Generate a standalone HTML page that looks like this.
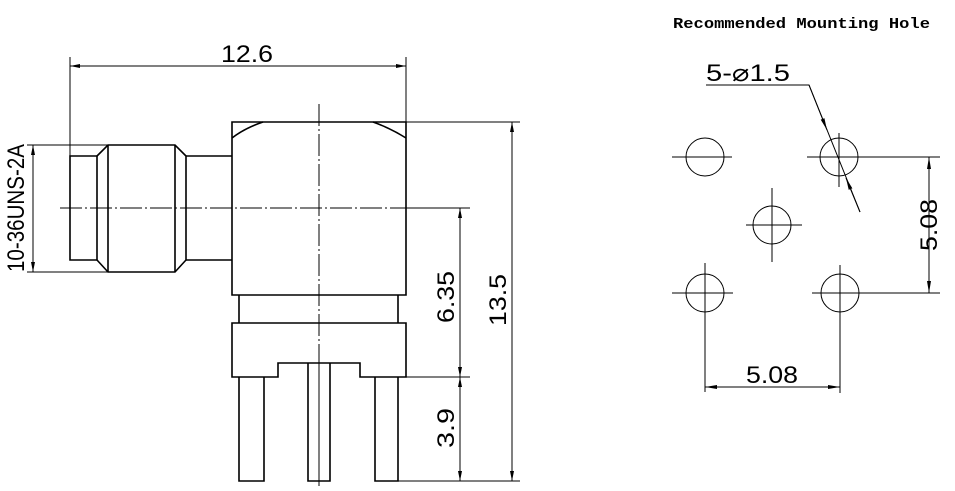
<!DOCTYPE html>
<html><head><meta charset="utf-8"><style>
html,body{margin:0;padding:0;background:#fff;}
svg{display:block;}
text{fill:#000;}
</style></head><body>
<svg width="955" height="491" viewBox="0 0 955 491" xmlns="http://www.w3.org/2000/svg">
<defs>
<marker id="a" viewBox="0 0 10 4" refX="10" refY="2" markerWidth="10" markerHeight="4" orient="auto-start-reverse" markerUnits="userSpaceOnUse"><path d="M0,0 L10,2 L0,4z" fill="#000"/></marker>
<marker id="b" viewBox="0 0 12 4" refX="12" refY="2" markerWidth="12" markerHeight="4" orient="auto-start-reverse" markerUnits="userSpaceOnUse"><path d="M0,0 L12,2 L0,4z" fill="#000"/></marker>
</defs>
<g fill="none" stroke="#000" stroke-width="1.6">
<path d="M232,122 H406 V295 H232 Z"/>
<path d="M232,138 Q245,128 263,122 M373,122 Q390,128 406,138"/>
<path d="M239,295 V323 M398,295 V323"/>
<path d="M232,323 H406 V377 H360 V363 H278 V377 H232 Z"/>
<path d="M239,377 V481 H264 V377"/>
<path d="M308,363 V481 H330 V363"/>
<path d="M375,377 V481 H398 V377"/>
<path d="M70,156 H97 V260 H70 Z"/>
<path d="M97,156 L108,145 H175 L186,156 V260 L175,272 H108 L97,260"/>
<path d="M108,145 V272 M175,145 V272"/>
<path d="M186,156 H232 M186,260 H232"/>
</g>
<g fill="none" stroke="#000" stroke-width="1">
<path d="M319,363 V481"/>
<path d="M319,104 V487" stroke-dasharray="22,3,2,3"/>
<path d="M60,208 H470" stroke-dasharray="22,3,2,3"/>
<path d="M70,57 V156 M406,57 V122"/>
<path d="M70,66 H406" marker-start="url(#a)" marker-end="url(#a)"/>
<path d="M27,145 H108 M27,272 H108"/>
<path d="M33,145 V272" marker-start="url(#a)" marker-end="url(#a)"/>
<path d="M406,122 H520 M398,481 H520 M406,377 H470 M406,208 H470"/>
<path d="M512,122 V481" marker-start="url(#a)" marker-end="url(#a)"/>
<path d="M460,208 V377" marker-start="url(#a)" marker-end="url(#a)"/>
<path d="M460,377 V481" marker-start="url(#a)" marker-end="url(#a)"/>
<circle cx="705" cy="157" r="19"/>
<circle cx="839" cy="157" r="19"/>
<circle cx="772" cy="225" r="19"/>
<circle cx="705" cy="293" r="19"/>
<circle cx="840" cy="293" r="19"/>
<path d="M672,157 H732"/>
<path d="M807,157 H940 M839,133 V187"/>
<path d="M746,225 H802 M772,188 V262"/>
<path d="M672,293 H733 M705,263 V392"/>
<path d="M812,293 H940 M840,265 V393"/>
<path d="M929,157 V293" marker-start="url(#b)" marker-end="url(#b)"/>
<path d="M705,387 H840" marker-start="url(#b)" marker-end="url(#b)"/>
<path d="M706,85 H809 L860,212"/>
<path d="M809,85 L827,130" marker-end="url(#b)"/>
<path d="M860,212 L846,178" marker-end="url(#b)"/>
</g>
<g font-size="24" style="font-family:'Liberation Sans Narrow','Liberation Sans',sans-serif">
<text x="221" y="62" textLength="52" lengthAdjust="spacingAndGlyphs">12.6</text>
<text transform="translate(24,208) rotate(-90)" text-anchor="middle" textLength="128" lengthAdjust="spacingAndGlyphs">10-36UNS-2A</text>
<text transform="translate(454,297) rotate(-90)" text-anchor="middle" textLength="52" lengthAdjust="spacingAndGlyphs">6.35</text>
<text transform="translate(454,428) rotate(-90)" text-anchor="middle" textLength="40" lengthAdjust="spacingAndGlyphs">3.9</text>
<text transform="translate(506,300) rotate(-90)" text-anchor="middle" textLength="52" lengthAdjust="spacingAndGlyphs">13.5</text>
<text transform="translate(937,225) rotate(-90)" text-anchor="middle" textLength="52" lengthAdjust="spacingAndGlyphs">5.08</text>
<text x="746" y="383" textLength="52" lengthAdjust="spacingAndGlyphs">5.08</text>
<text x="706" y="81" textLength="84" lengthAdjust="spacingAndGlyphs">5-⌀1.5</text>
</g>
<text x="673" y="28" font-size="15" font-weight="bold" style="font-family:'Liberation Mono',monospace" textLength="257" lengthAdjust="spacingAndGlyphs">Recommended Mounting Hole</text>
</svg>
</body></html>
